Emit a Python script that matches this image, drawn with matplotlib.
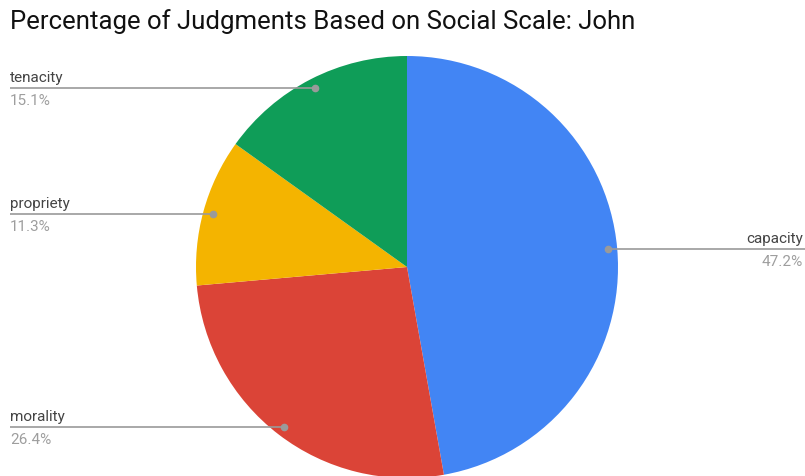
import matplotlib.pyplot as plt
import numpy as np

plt.rcParams['font.family'] = ['Roboto', 'DejaVu Sans']

# slices, clockwise from 12 o'clock
labels = ['capacity', 'morality', 'propriety', 'tenacity']
values = [47.2, 26.4, 11.3, 15.1]
colors = ['#4285F4', '#DB4437', '#F4B400', '#0F9D58']
title = 'Percentage of Judgments Based on Social Scale: John'

W, H = 805, 477
fig = plt.figure(figsize=(W / 100, H / 100), dpi=100)
ax = fig.add_axes([0, 0, 1, 1])

cx, cy, r = 407, H - 268, 211
wedges, _ = ax.pie(values, colors=colors, startangle=90, counterclock=False,
                   center=(cx, cy), radius=r,
                   wedgeprops=dict(linewidth=0))
ax.set_xlim(0, W)
ax.set_ylim(0, H)
ax.set_aspect('equal')
ax.axis('off')

for w, name, v in zip(wedges, labels, values):
    mid = np.deg2rad((w.theta1 + w.theta2) / 2)
    px = cx + 0.955 * r * np.cos(mid)
    py = cy + 0.955 * r * np.sin(mid)
    if np.cos(mid) >= 0:
        x_end, ha = W, 'right'
        tx = W - 2
    else:
        x_end, ha = 10, 'left'
        tx = 10
    ax.plot([px, x_end], [py, py], color='#9a9a9a', lw=1.2, solid_capstyle='butt')
    ax.plot(px, py, 'o', color='#9a9a9a', ms=4.5)
    ax.text(tx, py + 4, name, ha=ha, va='bottom', fontsize=11, color='#444444')
    ax.text(tx, py - 5, f'{v}%', ha=ha, va='top', fontsize=11, color='#9e9e9e')

ax.text(10, H - 22, title, ha='left', va='center', fontsize=18.5, color='#111111')

fig.savefig('out.png', dpi=100)
